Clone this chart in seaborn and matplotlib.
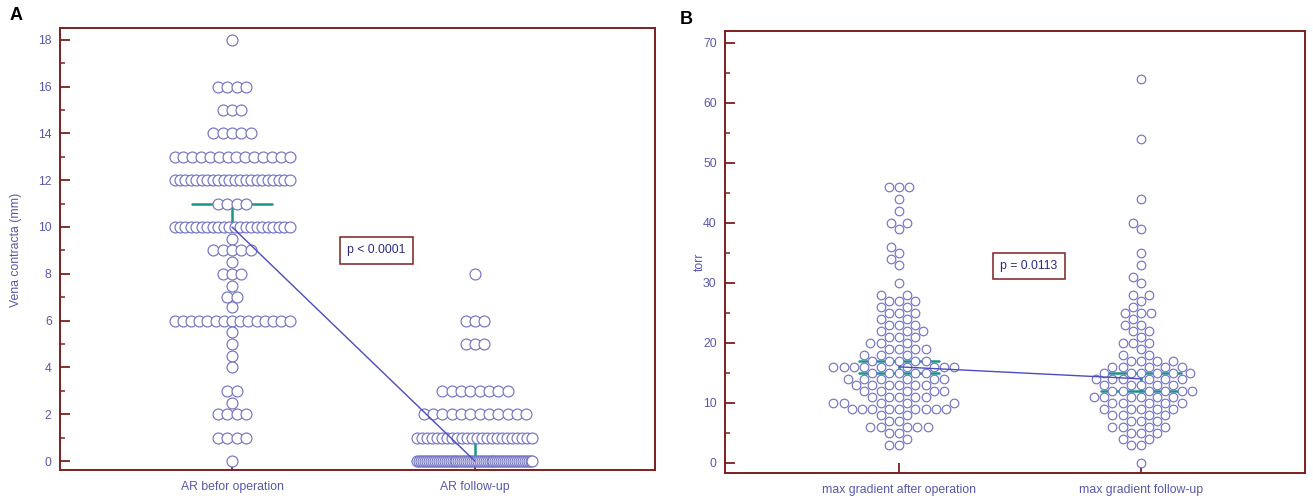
import numpy as np
import pandas as pd
import matplotlib
matplotlib.use("Agg")
import matplotlib.pyplot as plt
import seaborn as sns
from matplotlib.ticker import MultipleLocator

sns.set_theme(style="white")
plt.rcParams['font.family'] = ['Liberation Sans', 'DejaVu Sans']

# ---------------- data: panel A ----------------
a_groups = ["AR befor operation", "AR follow-up"]
a_before_vals = [18, 16, 15, 14, 13, 12, 11, 10, 9.5, 9, 8.5, 8, 7.5, 7, 6.6, 6,
                 5.5, 5, 4.5, 4, 3, 2.5, 2, 1, 0]
a_before_cnts = [1, 4, 3, 5, 14, 22, 4, 22, 1, 5, 1, 3, 1, 2, 1, 15,
                 1, 1, 1, 1, 2, 1, 4, 4, 1]
a_follow_vals = [8, 6, 5, 3, 2, 1, 0]
a_follow_cnts = [1, 3, 3, 8, 12, 24, 60]
a_median = [10, 0]
a_ci_low = [10, 0]
a_ci_high = [11, 1]
a_ptext = "p < 0.0001"

# ---------------- data: panel B ----------------
b_groups = ["max gradient after operation", "max gradient follow-up"]
b_after_vals = [46, 44, 42, 40, 39, 36, 35, 34, 33, 30, 28, 27, 26, 25, 24, 23, 22,
                21, 20, 19, 18, 17, 16, 15, 14, 13, 12, 11, 10, 9, 8, 7, 6, 5, 4, 3]
b_after_cnts = [3, 1, 1, 2, 1, 1, 1, 1, 1, 1, 2, 3, 2, 3, 2, 3, 3,
                3, 3, 4, 3, 5, 9, 5, 6, 6, 5, 5, 5, 9, 2, 2, 5, 2, 1, 2]
b_follow_vals = [64, 54, 44, 40, 39, 35, 33, 31, 30, 28, 27, 26, 25, 24, 23, 22,
                 21, 20, 19, 18, 17, 16, 15, 14, 13, 12, 11, 10, 9, 8, 7, 6, 5, 4, 3, 0]
b_follow_cnts = [1, 1, 1, 1, 1, 1, 1, 1, 1, 2, 1, 1, 3, 1, 2, 2,
                 1, 3, 1, 2, 4, 5, 6, 6, 5, 6, 6, 5, 5, 4, 3, 4, 3, 2, 2, 1]
b_median = [16, 14]
b_ci_low = [15, 12]
b_ci_high = [17, 15]
b_ptext = "p = 0.0113"

# ---------------- styling ----------------
RED = "#7d1f1f"
BLUE_TXT = "#5858aa"
PT_EDGE = "#7474c4"
TEAL = "#16968a"
LINE = "#4b4bc2"

W, H = 1313, 496
fig = plt.figure(figsize=(W / 100, H / 100), dpi=100)
fig.patch.set_facecolor("white")


def ax_rect(l, t, r, b):
    return [l / W, 1 - b / H, (r - l) / W, (b - t) / H]


axA = fig.add_axes(ax_rect(60, 28, 655, 470))
axB = fig.add_axes(ax_rect(725, 31, 1305, 473))


# dot-plot layout for panel A (rows of points, compressed when too wide)
def dot_rows(vals, cnts, center, step, maxspan):
    xs, ys = [], []
    for v, n in zip(vals, cnts):
        sp = min(step, maxspan / (n - 1)) if n > 1 else 0
        off = (np.arange(n) - (n - 1) / 2) * sp
        xs.extend(center + off)
        ys.extend([v] * n)
    return xs, ys


px_per_unit_A = 243.0
stepA = 9.3 / px_per_unit_A
spanA = 115.0 / px_per_unit_A
x0, y0 = dot_rows(a_before_vals, a_before_cnts, 0, stepA, spanA)
x1, y1 = dot_rows(a_follow_vals, a_follow_cnts, 1, stepA, spanA)
dfA = pd.DataFrame({"x": x0 + x1, "value": y0 + y1})

sns.scatterplot(data=dfA, x="x", y="value", ax=axA, s=62, color="white",
                edgecolor=PT_EDGE, linewidth=0.85, zorder=3, legend=False)

# panel B swarm
rows = []
for g, vals, cnts in [(b_groups[0], b_after_vals, b_after_cnts),
                      (b_groups[1], b_follow_vals, b_follow_cnts)]:
    for v, n in zip(vals, cnts):
        rows += [(g, v)] * n
dfB = pd.DataFrame(rows, columns=["group", "value"])
sns.swarmplot(data=dfB, x="group", y="value", order=b_groups, ax=axB, size=6.2,
              color="white", edgecolor=PT_EDGE, linewidth=0.85, zorder=3)


def decorate(ax, med, lo, hi, capw, ptext, pxy, xlim, ylim, major, minor, labels, xpad):
    for i in range(2):
        ax.plot([i, i], [lo[i], hi[i]], color=TEAL, lw=1.8, zorder=2)
        for yv in (lo[i], hi[i]):
            ax.plot([i - capw, i + capw], [yv, yv], color=TEAL, lw=1.8, zorder=2)
    ax.plot([0, 1], med, color=LINE, lw=1.0, zorder=4)
    ax.text(pxy[0], pxy[1], ptext, ha="center", va="center", fontsize=8.8,
            color="#2b2b80", zorder=5,
            bbox=dict(boxstyle="square,pad=0.6", fc="white", ec=RED, lw=1.1))
    ax.set_xlim(*xlim)
    ax.set_ylim(*ylim)
    ax.set_xticks([0, 1])
    ax.set_xticklabels(labels)
    ax.yaxis.set_major_locator(MultipleLocator(major))
    ax.yaxis.set_minor_locator(MultipleLocator(minor))
    ax.set_xlabel("")
    ax.set_ylabel("")
    ax.grid(False)
    for sp in ax.spines.values():
        sp.set_visible(True)
        sp.set_color(RED)
        sp.set_linewidth(1.4)
    ax.tick_params(axis="y", which="major", direction="in", length=7, width=1.3,
                   color=RED, labelcolor=BLUE_TXT, labelsize=8.8, pad=6, left=True)
    ax.tick_params(axis="y", which="minor", direction="in", length=3.5, width=1.1,
                   color=RED, left=True)
    ax.tick_params(axis="x", which="major", direction="in", length=7, width=1.3,
                   color=RED, labelcolor=BLUE_TXT, labelsize=8.8, pad=xpad, bottom=True)
    ax.set_facecolor("white")


decorate(axA, a_median, a_ci_low, a_ci_high, 0.163, a_ptext, (0.593, 9.0),
         (-0.708, 1.741), (-0.38, 18.5), 2, 1, a_groups, 8)
decorate(axB, b_median, b_ci_low, b_ci_high, 0.165, b_ptext, (0.537, 32.8),
         (-0.719, 1.678), (-1.7, 72.0), 10, 5, b_groups, 8)

fig.text(16 / W, 1 - 250 / H, "Vena contracta (mm)", rotation=90, ha="center",
         va="center", fontsize=8.8, color=BLUE_TXT)
fig.text(700 / W, 1 - 262 / H, "torr", rotation=90, ha="center",
         va="center", fontsize=8.8, color=BLUE_TXT)
fig.text(10 / W, 1 - 16 / H, "A", ha="left", va="center", fontsize=13,
         fontweight="bold", color="black")
fig.text(680 / W, 1 - 20 / H, "B", ha="left", va="center", fontsize=13,
         fontweight="bold", color="black")

fig.savefig("out.png", dpi=100, facecolor="white")
